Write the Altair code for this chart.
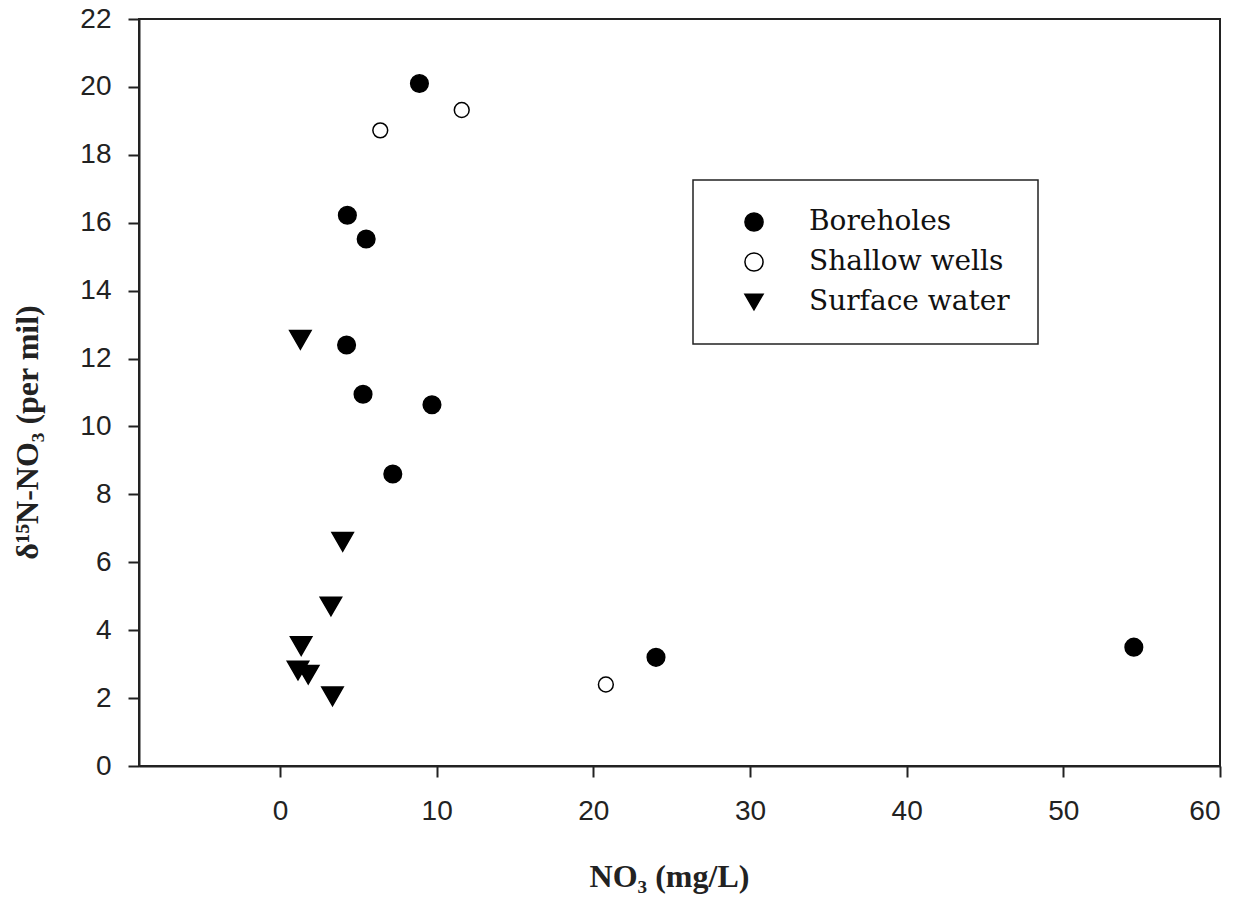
import altair as alt
import pandas as pd

# ---- data ----
bore_x = [8.9, 4.3, 5.5, 4.25, 5.3, 9.7, 7.2, 24.0, 54.5]
bore_y = [20.1, 16.22, 15.52, 12.4, 10.95, 10.64, 8.6, 3.2, 3.5]

shallow_x = [6.4, 11.6, 20.8]
shallow_y = [18.72, 19.32, 2.4]

surface_x = [1.3, 4.0, 3.25, 1.35, 1.15, 1.8, 3.35]
surface_y = [12.55, 6.6, 4.7, 3.53, 2.81, 2.69, 2.05]

groups = ["Boreholes", "Shallow wells", "Surface water"]
x_ticks = [0, 10, 20, 30, 40, 50, 60]
y_ticks = [0, 2, 4, 6, 8, 10, 12, 14, 16, 18, 20, 22]

rows = []
for g, xs, ys in zip(groups, [bore_x, shallow_x, surface_x], [bore_y, shallow_y, surface_y]):
    for a, b in zip(xs, ys):
        rows.append({"no3": a, "d15n": b, "group": g})
df = pd.DataFrame(rows)

legend = alt.Legend(
    title=None,
    orient="none",
    legendX=554,
    legendY=161,
    padding=28,
    strokeColor="#222",
    labelFont="DejaVu Serif",
    labelFontSize=28,
    labelColor="#111",
    labelOffset=41,
    labelLimit=400,
    symbolOffset=19,
    symbolSize=330,
    rowPadding=12,
    symbolStrokeColor="black",
    symbolStrokeWidth=1.5,
)

base = alt.Chart(df).encode(
    x=alt.X(
        "no3:Q",
        scale=alt.Scale(domain=[-9, 60], nice=False, zero=False),
        axis=alt.Axis(
            values=x_ticks,
            title="NO₃ (mg/L)",
            titleX=530,
            titleY=120,
            titleBaseline="alphabetic",
            titleAlign="center",
        ),
    ),
    y=alt.Y(
        "d15n:Q",
        scale=alt.Scale(domain=[0, 22], nice=False),
        axis=alt.Axis(
            values=y_ticks,
            title="δ¹⁵N-NO₃ (per mil)",
            titleX=-112,
            titleY=413,
            titleAngle=270,
            titleAlign="center",
            titleBaseline="middle",
            labelPadding=17,
        ),
    ),
    shape=alt.Shape(
        "group:N",
        scale=alt.Scale(domain=groups, range=["circle", "circle", "triangle-down"]),
        legend=legend,
    ),
    fill=alt.Fill(
        "group:N",
        scale=alt.Scale(domain=groups, range=["black", "white", "black"]),
        legend=legend,
    ),
    stroke=alt.Stroke(
        "group:N",
        scale=alt.Scale(domain=groups, range=["black", "black", "black"]),
        legend=legend,
    ),
)

sizes = {"Boreholes": 310, "Shallow wells": 220, "Surface water": 460}
layers = [
    base.transform_filter(alt.datum.group == g).mark_point(
        opacity=1, strokeWidth=1.5, size=sizes[g]
    )
    for g in groups
]

chart = alt.layer(*layers).properties(
    width=1081,
    height=747,
    background="white",
    autosize=alt.AutoSizeParams(type="none"),
    padding={"left": 131, "top": 11, "right": 20, "bottom": 130},
).configure_view(
    stroke="#222", strokeWidth=2
).configure_legend(
    strokeWidth=1.5,
).configure_axis(
    grid=False,
    domainColor="#222",
    domainWidth=2,
    tickColor="#222",
    tickWidth=2,
    tickSize=11,
    labelFont="Liberation Sans",
    labelFontSize=28,
    labelColor="#222",
    labelPadding=20,
    titleFont="Liberation Serif",
    titleFontWeight="bold",
    titleFontSize=32,
    titleColor="#222",
)

chart.save("out.html", embed_options={"renderer": "svg", "actions": False})
